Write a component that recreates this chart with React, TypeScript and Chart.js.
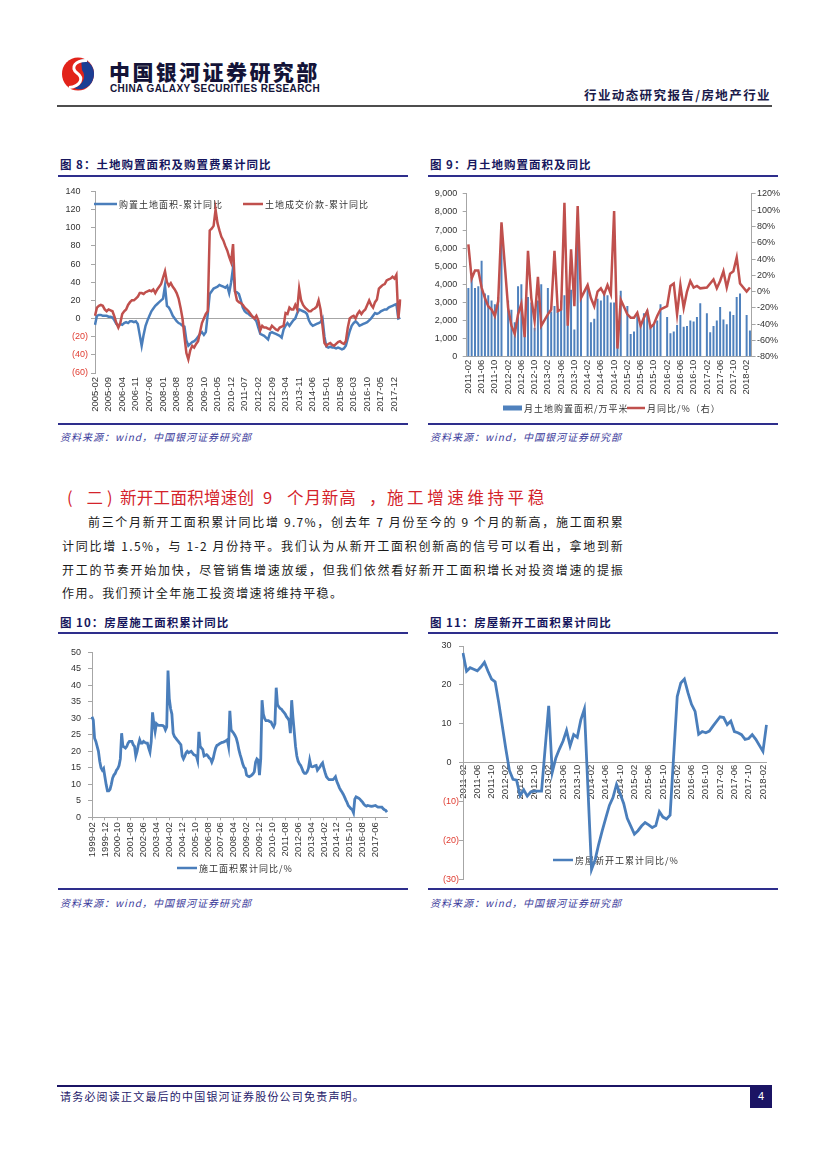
import React, { useEffect, useRef } from 'react';
import { Chart, registerables } from 'chart.js';

Chart.register(...registerables);

const CJK = '"Noto Sans CJK SC", "Noto Sans", sans-serif';
const ARIAL = '"Liberation Sans", Arial, sans-serif';
const BLUE = '#4A7EBB';
const BAR_BLUE = '#4F81BD';
const RED = '#C0504D';
const AXIS = '#A6A6A6';
const TICK_TEXT = '#333333';
const NEG_TEXT = '#E03C31';
const NAVY_TEXT = '#17175E';
const NAVY_LINE = '#2E2E8C';
const SOURCE_TEXT = '#3B3B9B';
const HEAD_RED = '#D4232B';

function monthRange(startYear: number, startMonth: number, count: number): string[] {
  const out: string[] = [];
  let y = startYear;
  let m = startMonth;
  for (let k = 0; k < count; k++) {
    out.push(`${y}-${m < 10 ? '0' + m : m}`);
    m += 1;
    if (m > 12) { m = 1; y += 1; }
  }
  return out;
}

// ---------- Figure 8 ----------
const fig8Months = monthRange(2005, 2, 158);
const fig8TickLabels = ['2005-02', '2005-09', '2006-04', '2006-11', '2007-06', '2008-01', '2008-08', '2009-03', '2009-10', '2010-05', '2010-12', '2011-07', '2012-02', '2012-09', '2013-04', '2013-11', '2014-06', '2015-01', '2015-08', '2016-03', '2016-10', '2017-05', '2017-12'];
const fig8LandArea = [
  -7, 3, 4, 4, 3, 3, 3, 2, 2, 1,
  -2, -6, -8, -6, -7, -5, -4, -5, -3, -3,
  -4, -3, -6, -18, -30, -18, -8, -2, 3, 8,
  11, 14, 16, 18, 20, 22, 36, 14, 12, 8,
  3, 0, -3, -5, -6, -8, -9, -24, -30, -28,
  -26, -25, -23, -20, -17, -15, -18, -15, 5, 27,
  30, 33, 34, 35, 37, 36, 35, 34, 36, 28,
  40, 56, 30, 29, 27, 20, 12, 8, 6, 5,
  3, 2, 0, -3, -10, -17, -18, -19, -21, -23,
  -16, -15, -16, -17, -18, -19, -21, -12, -8, -5,
  -8, -5, -2, 0, 6, 10, 9, 8, 7, 5,
  -2, -6, -8, -7, -6, -5, -4, 0, -20, -31,
  -32, -31, -32, -32, -33, -32, -33, -34, -33, -30,
  -22, -14, -8, -5, -3, -5, -8, -7, -6, -5,
  -4, -2, 0, 3, 6, 5, 6, 8, 9, 10,
  10, 12, 13, 14, 15, 16, 0, 1,
];
const fig8LandPrice = [
  3, 12, 14, 15, 14, 10, 8, 10, 9, 8,
  2, -5, -10, -5, 5, 8, 10, 15, 18, 20,
  20, 22, 24, 28, 28, 27, 29, 30, 31, 30,
  32, 28, 32, 35, 38, 45, 52, 40, 36, 39,
  35, 32, 28, 22, 12, 0, -20, -38, -45, -35,
  -30, -32, -28, -25, -15, -5, 0, 5, 8, 97,
  99, 102, 120, 105, 97, 90, 86, 80, 75, 68,
  62, 82, 30, 20, 18, 17, 15, 12, 10, 8,
  5, 2, 0, 3, -2, -13, -8, -10, -10, -11,
  -12, -8, -10, -12, -13, -10, -9, -8, 6, 5,
  12, 10, 10, 15, 10, 33, 20, 15, 12, 10,
  8, 8, 10, 11, 13, 20, 10, -8, -27, -30,
  -28, -27, -29, -30, -28, -26, -25, -27, -28, -25,
  -10, 0, 2, 3, 0, 5, 8, 5, 8, 10,
  15, 20, 15, 12, 18, 21, 33, 35, 37, 38,
  42, 43, 44, 46, 44, 48, 0, 21,
];
const fig8SeriesNames = ['购置土地面积-累计同比', '土地成交价款-累计同比'];

// ---------- Figure 9 ----------
const fig9Months = monthRange(2011, 2, 86);
const fig9TickLabels = ['2011-02', '2011-06', '2011-10', '2012-02', '2012-06', '2012-10', '2013-02', '2013-06', '2013-10', '2014-02', '2014-06', '2014-10', '2015-02', '2015-06', '2015-10', '2016-02', '2016-06', '2016-10', '2017-02', '2017-06', '2017-10', '2018-02'];
const fig9Area = [
  3800, 4400, 3800, 3900, 5300, 3500, 3400, 3100, 2900, 3300,
  7200, null, 3100, 2600, 1900, 3900, 4000, 1600, 3300, 3000,
  1600, 3100, 4000, null, 3800, 2500, 2800, 2600, 3100, 3400,
  2800, 3700, 1500, 6400, 3700, null, 3900, 1900, 2100, 3200,
  3100, 3600, 3400, 3000, 3000, 1900, 3650, null, 2800, 1250,
  1400, 2300, 1800, 2400, 2600, 1700, 1800, 2000, 2900, null,
  2200, 1300, 1400, 1750, 2300, 1650, 1700, 2000, 1950, 2200,
  2950, null, 2400, 1350, 1700, 2000, 2750, 2050, 1800, 2500,
  2300, 3300, 3500, null, 2300, 1450,
];
const fig9YoY = [
  58, 16, 26, 26, 5, -8, -18, -22, -30, -12,
  85, null, -20, -42, -52, -28, -15, -56, 50, -8,
  -36, 18, -42, null, -28, -22, 50, -24, -22, 109,
  -42, 52, -18, 105, -8, null, 8, -8, -18, 0,
  4, -3, 8, -3, 99, -70, -10, null, -28, -32,
  -32, -26, -42, -32, -24, -44, -40, -30, -22, null,
  -18, 7, 10, -28, 8, -20, 0, 13, 5, 7,
  4, null, 5, 10, 15, 4, 13, 25, 5, 22,
  25, 42, 10, null, 0, 5,
];
const fig9SeriesNames = ['月土地购置面积/万平米', '月同比/%（右）'];

// ---------- Figure 10 ----------
const fig10Months = monthRange(1999, 2, 230);
const fig10TickLabels = ['1999-02', '1999-12', '2000-10', '2001-08', '2002-06', '2003-04', '2004-02', '2004-12', '2005-10', '2006-08', '2007-06', '2008-04', '2009-02', '2009-12', '2010-10', '2011-08', '2012-06', '2013-04', '2014-02', '2014-12', '2015-10', '2016-08', '2017-06'];
const fig10Values = [
  30.5, 29.5, 24, 23, 21.5, 20, 17, 15, 14.3, 14.8,
  12.3, 9.9, 8, 8, 8.5, 10, 11.9, 12.8, 13.3, 14.3,
  14.8, 15.7, 17.7, 25.5, 21.5, 21.3, 21, 21.5, 22.5, 23,
  23, 23, 22, 21.5, 18.6, 20, 22, 23.5, 22.5, 22.5,
  23, 22.7, 22.5, 22.5, 21, 19.8, 23, 31.8, 28.4, 26,
  28.4, 28, 27.9, 27.9, 27.9, 27.8, 27.5, 26.5, 27.4, 44.5,
  36, 33, 31.3, 25.5, 24.5, 24, 23.5, 23, 22.5, 22,
  18.6, 17.7, 18.5, 19.6, 20, 19.6, 19.8, 20, 19.5, 19,
  18.8, 18.6, 17.2, 25.9, 21.5, 21, 20.5, 18.6, 18.8, 19,
  18.6, 18, 17.7, 16.7, 17.7, 19.5, 21, 21.8, 22, 22.3,
  22.5, 22.7, 22.8, 23, 23.2, 23.5, 21.5, 32.3, 26.5, 26,
  25.5, 24.8, 24, 22.5, 20.5, 19, 17.7, 16.2, 15.2, 14.8,
  12.8, 12.5, 12.3, 12.5, 12.8, 13.2, 13.8, 16.7, 17.7, 17.3,
  12.8, 17.7, 35.5, 31.3, 30, 29.3, 29.3, 29.3, 29, 28.9,
  28, 27.4, 28.4, 39.3, 34.2, 33.5, 33, 32.8, 32.3, 31.8,
  31.3, 30.5, 30, 29.3, 25.5, 35.5, 30.3, 26, 21.5, 18.6,
  17, 16.2, 15.7, 14.8, 13.8, 13.3, 13.3, 13.8, 14.8, 17.3,
  15.5, 15.3, 15.4, 15.6, 15.7, 14.3, 14.8, 15.3, 16, 16.5,
  14.8, 13.5, 12.3, 11.8, 11.4, 11.4, 11.4, 11.4, 11.8, 12.3,
  10.9, 10, 9, 8.3, 7.7, 7, 6.2, 5.3, 4.5, 3.5,
  3.1, 2.6, 2.3, 1.4, 5.5, 6.2, 6, 5.8, 5.5, 5,
  4.6, 4, 3.6, 3.4, 3.6, 3.5, 3.4, 3.3, 3.4, 3.5,
  3.6, 3.3, 3.1, 3.1, 3.1, 3.1, 2.6, 2.3, 2.1, 1.6,
];
const fig10SeriesName = '施工面积累计同比/%';

// ---------- Figure 11 ----------
const fig11Months = monthRange(2011, 2, 86);
const fig11TickLabels = ['2011-02', '2011-06', '2011-10', '2012-02', '2012-06', '2012-10', '2013-02', '2013-06', '2013-10', '2014-02', '2014-06', '2014-10', '2015-02', '2015-06', '2015-10', '2016-02', '2016-06', '2016-10', '2017-02', '2017-06', '2017-10', '2018-02'];
const fig11Values = [
  28.2, 23.5, 24.4, 24, 23.6, 24.6, 25.8, 23.5, 21.5, 20.8,
  15.5, null, 3.5, -2, -4.3, -4.5, -8.5, -7, -8.6, -7.5,
  -7.3, -7.3, -7.3, null, 14.6, -2.5, 1.2, 3.5, 5.5, 8.3,
  4.3, 7.2, 6.5, 11, 13.8, null, -27.5, -25, -21, -17.5,
  -14.2, -11, -9, -5.6, -8, -10.5, -14.3, null, -18.4, -17.5,
  -16.3, -15.4, -16, -16.7, -16.2, -12.6, -14, -14.5, -13.5, null,
  17, 20.5, 21.5, 18, 15, 13.2, 7.3, 8, 7.7, 8.1,
  9.4, null, 11.8, 11.6, 9.8, 10.7, 8, 7.7, 7.2, 6,
  6.2, 7.2, 6, null, 2.9, 9.7,
];
const fig11SeriesName = '房屋新开工累计同比/%';

// ---------- helpers ----------
const keepTicks = (labels: string[], shown: string[]) => (scale: any) => {
  scale.ticks = scale.ticks.filter((t: any) => shown.indexOf(labels[t.value]) >= 0);
};
const parenLabel = (v: any) => (Number(v) < 0 ? `(${-Number(v)})` : `${v}   `);
const negColor = (c: any) => (c.tick && c.tick.value < 0 ? NEG_TEXT : TICK_TEXT);

type LegendSpec = { x: number; y: number; len: number; color: string; kind: 'line' | 'rect'; text: string };

function legendPlugin(items: LegendSpec[], layer: 'under' | 'over') {
  const paint = (chart: any) => {
    const ctx = chart.ctx as CanvasRenderingContext2D;
    ctx.save();
    items.forEach((it) => {
      if (it.kind === 'line') {
        ctx.strokeStyle = it.color;
        ctx.lineWidth = 2.5;
        ctx.beginPath();
        ctx.moveTo(it.x, it.y);
        ctx.lineTo(it.x + it.len, it.y);
        ctx.stroke();
      } else {
        ctx.fillStyle = it.color;
        ctx.fillRect(it.x, it.y - 2.5, it.len, 5);
      }
      ctx.fillStyle = TICK_TEXT;
      ctx.font = `9px ${CJK}`;
      (ctx as any).letterSpacing = '1px';
      ctx.textAlign = 'left';
      ctx.textBaseline = 'middle';
      ctx.fillText(it.text, it.x + it.len + 2, it.y + 0.5);
    });
    ctx.restore();
  };
  return {
    id: 'customLegend',
    beforeDatasetsDraw(chart: any) { if (layer === 'under') paint(chart); },
    afterDatasetsDraw(chart: any) { if (layer === 'over') paint(chart); },
  };
}

const baseOptions = {
  responsive: false,
  animation: false,
  devicePixelRatio: 1,
  plugins: { legend: { display: false }, tooltip: { enabled: false } },
};

const xTickFont = { family: ARIAL, size: 9.5 };
const yTickFont = { family: ARIAL, size: 9 };

function buildFig8() {
  return {
    type: 'line',
    data: {
      labels: fig8Months,
      datasets: [
        { label: fig8SeriesNames[0], data: fig8LandArea, borderColor: BLUE, borderWidth: 2.5, pointRadius: 0, tension: 0, order: 2 },
        { label: fig8SeriesNames[1], data: fig8LandPrice, borderColor: RED, borderWidth: 2.5, pointRadius: 0, tension: 0, order: 1 },
      ],
    },
    options: {
      ...baseOptions,
      layout: { padding: { top: 7, right: 8, bottom: 0, left: 0 } },
      scales: {
        x: {
          type: 'category', offset: false,
          grid: { display: false, drawTicks: false }, border: { display: false },
          ticks: { autoSkip: false, minRotation: 90, maxRotation: 90, padding: 4, font: xTickFont, color: TICK_TEXT },
          afterBuildTicks: keepTicks(fig8Months, fig8TickLabels),
          afterFit: (s: any) => { s.height = 50; },
        },
        y: {
          min: -60, max: 140,
          ticks: { stepSize: 20, padding: 3, font: yTickFont, color: negColor, callback: parenLabel },
          grid: { color: (c: any) => (c.tick && c.tick.value === 0 ? AXIS : 'rgba(0,0,0,0)'), tickColor: AXIS, tickLength: 4 },
          border: { color: AXIS },
          afterFit: (s: any) => { s.width = 40; },
        },
      },
    },
    plugins: [legendPlugin([
      { x: 39, y: 21, len: 23, color: BLUE, kind: 'line', text: fig8SeriesNames[0] },
      { x: 188, y: 21, len: 20, color: RED, kind: 'line', text: fig8SeriesNames[1] },
    ], 'under')],
  };
}

function buildFig9() {
  return {
    type: 'bar',
    data: {
      labels: fig9Months,
      datasets: [
        { type: 'bar', label: fig9SeriesNames[0], data: fig9Area, backgroundColor: BAR_BLUE, barPercentage: 0.6, categoryPercentage: 1, yAxisID: 'y', order: 2 },
        { type: 'line', label: fig9SeriesNames[1], data: fig9YoY, borderColor: RED, borderWidth: 2.5, pointRadius: 0, tension: 0, spanGaps: true, yAxisID: 'y1', order: 1 },
      ],
    },
    options: {
      ...baseOptions,
      layout: { padding: { top: 6.3, right: 0, bottom: 21.3, left: 0 } },
      scales: {
        x: {
          offset: true,
          grid: { display: false, drawTicks: false }, border: { display: true, color: AXIS },
          ticks: { autoSkip: false, minRotation: 90, maxRotation: 90, padding: 3, font: xTickFont, color: TICK_TEXT },
          afterBuildTicks: keepTicks(fig9Months, fig9TickLabels),
          afterFit: (s: any) => { s.height = 45; },
        },
        y: {
          position: 'left', min: 0, max: 9000,
          ticks: { stepSize: 1000, padding: 5.5, font: yTickFont, color: TICK_TEXT, callback: (v: any) => Number(v).toLocaleString('en-US') },
          grid: { drawOnChartArea: false, color: AXIS, tickLength: 4 },
          border: { color: AXIS },
          afterFit: (s: any) => { s.width = 41.7; },
        },
        y1: {
          position: 'right', min: -80, max: 120,
          ticks: { stepSize: 20, padding: 1.5, font: yTickFont, color: TICK_TEXT, callback: (v: any) => `${v}%` },
          grid: { drawOnChartArea: false, color: AXIS, tickLength: 4 },
          border: { color: AXIS },
          afterFit: (s: any) => { s.width = 33.4; },
        },
      },
    },
    plugins: [legendPlugin([
      { x: 78, y: 225, len: 19, color: BAR_BLUE, kind: 'rect', text: fig9SeriesNames[0] },
      { x: 202, y: 225, len: 18, color: RED, kind: 'line', text: fig9SeriesNames[1] },
    ], 'over')],
  };
}

function buildFig10() {
  return {
    type: 'line',
    data: {
      labels: fig10Months,
      datasets: [
        { label: fig10SeriesName, data: fig10Values, borderColor: BLUE, borderWidth: 2.8, pointRadius: 0, tension: 0 },
      ],
    },
    options: {
      ...baseOptions,
      layout: { padding: { top: 6, right: 23, bottom: 22.7, left: 0 } },
      scales: {
        x: {
          offset: false,
          grid: { drawOnChartArea: false, color: AXIS, tickLength: 3 }, border: { display: true, color: AXIS },
          ticks: { autoSkip: false, minRotation: 90, maxRotation: 90, padding: 2, font: xTickFont, color: TICK_TEXT },
          afterBuildTicks: keepTicks(fig10Months, fig10TickLabels),
          afterFit: (s: any) => { s.height = 45; },
        },
        y: {
          min: 0, max: 50,
          ticks: { stepSize: 5, padding: 7, font: yTickFont, color: TICK_TEXT },
          grid: { drawOnChartArea: false, color: AXIS, tickLength: 4 },
          border: { color: AXIS },
          afterFit: (s: any) => { s.width = 37; },
        },
      },
    },
    plugins: [legendPlugin([
      { x: 122, y: 228, len: 20, color: BLUE, kind: 'line', text: fig10SeriesName },
    ], 'over')],
  };
}

function buildFig11() {
  return {
    type: 'line',
    data: {
      labels: fig11Months,
      datasets: [
        { label: fig11SeriesName, data: fig11Values, borderColor: BLUE, borderWidth: 2.8, pointRadius: 0, tension: 0, spanGaps: true },
      ],
    },
    options: {
      ...baseOptions,
      layout: { padding: { top: 6, right: 18.5, bottom: 10.7, left: 0 } },
      scales: {
        x: {
          position: { y: 0 }, offset: false,
          grid: { display: false, drawTicks: false }, border: { display: true, color: AXIS },
          ticks: { autoSkip: false, minRotation: 90, maxRotation: 90, padding: 2, font: xTickFont, color: TICK_TEXT },
          afterBuildTicks: keepTicks(fig11Months, fig11TickLabels),
          afterFit: (s: any) => { s.height = 0; },
        },
        y: {
          min: -30, max: 30,
          ticks: { stepSize: 10, padding: 0, font: yTickFont, color: negColor, callback: parenLabel },
          grid: { drawOnChartArea: false, color: AXIS, tickLength: 4 },
          border: { color: AXIS },
          afterFit: (s: any) => { s.width = 38; },
        },
      },
    },
    plugins: [legendPlugin([
      { x: 128, y: 220, len: 20, color: BLUE, kind: 'line', text: fig11SeriesName },
    ], 'under')],
  };
}

function ChartCanvas({ left, top, width, height, build }: { left: number; top: number; width: number; height: number; build: () => any }) {
  const ref = useRef<HTMLCanvasElement | null>(null);
  useEffect(() => {
    if (!ref.current) return undefined;
    const chart = new Chart(ref.current, build());
    return () => { chart.destroy(); };
  }, []);
  return (
    <canvas ref={ref} width={width} height={height} style={{ position: 'absolute', left, top, width, height }} />
  );
}

function Txt({ x, y, size, children, style }: { x: number; y: number; size: number; children: any; style?: any }) {
  return (
    <div style={{ position: 'absolute', left: x, top: y - size / 2, fontSize: size, lineHeight: `${size}px`, whiteSpace: 'nowrap', fontFamily: CJK, ...style }}>
      {children}
    </div>
  );
}

function Rule({ x, y, w, h, color }: { x: number; y: number; w: number; h: number; color: string }) {
  return <div style={{ position: 'absolute', left: x, top: y, width: w, height: h, background: color }} />;
}

function FigureFrame({ x, titleY, lineY, bottomY, sourceY, title }: { x: number; titleY: number; lineY: number; bottomY: number; sourceY: number; title: string }) {
  return (
    <>
      <Txt x={x + 2} y={titleY} size={11.5} style={{ fontWeight: 700, color: NAVY_TEXT, letterSpacing: '1px' }}>{title}</Txt>
      <Rule x={x} y={lineY - 1} w={350} h={2} color={NAVY_LINE} />
      <Rule x={x} y={bottomY - 1} w={350} h={2} color={NAVY_LINE} />
      <Txt x={x + 2} y={sourceY} size={10} style={{ fontStyle: 'italic', color: SOURCE_TEXT, letterSpacing: '1px' }}>资料来源：wind，中国银河证券研究部</Txt>
    </>
  );
}

const paraStyle = { fontSize: 12, color: '#1A1A1A', letterSpacing: '1.3px', textAlign: 'justify', textAlignLast: 'justify' } as any;
const headStyle = { color: HEAD_RED };

export default function App() {
  return (
    <div style={{ position: 'absolute', left: 0, top: 0, width: 827, height: 1169, background: '#ffffff', overflow: 'hidden', fontFamily: CJK }}>
      {/* logo */}
      <svg style={{ position: 'absolute', left: 61, top: 57 }} width={36} height={34} viewBox="0 0 36 34">
        <ellipse cx="17" cy="17" rx="16" ry="16.5" fill="#E2231A" />
        <path d="M20 2 C 32 4, 36 16, 31 25 C 27 32, 18 34, 13 31 C 22 28, 26 20, 21 13 Z" fill="#1D3E93" />
        <path d="M26 3.5 C 14 3, 9 11, 16 16 C 23 21, 20 29, 8 30.5" stroke="#ffffff" strokeWidth="3" fill="none" />
      </svg>
      <Txt x={109} y={71} size={21} style={{ fontWeight: 900, color: '#141438', letterSpacing: '2.4px' }}>中国银河证券研究部</Txt>
      <Txt x={110} y={88.5} size={10} style={{ fontFamily: ARIAL, fontWeight: 700, color: '#141438', letterSpacing: '0.4px' }}>CHINA GALAXY SECURITIES RESEARCH</Txt>
      <Txt x={584} y={95.5} size={12.5} style={{ fontWeight: 700, color: '#1A1A4A', letterSpacing: '1.4px' }}>行业动态研究报告/房地产行业</Txt>
      <Rule x={57} y={105} w={715} h={2} color="#4D4D4D" />

      {/* figure 8 & 9 */}
      <FigureFrame x={58} titleY={165} lineY={176} bottomY={424} sourceY={436.5} title="图 8：土地购置面积及购置费累计同比" />
      <FigureFrame x={428} titleY={165} lineY={176} bottomY={424} sourceY={436.5} title="图 9：月土地购置面积及同比" />
      <ChartCanvas left={55} top={183} width={355} height={240} build={buildFig8} />
      <ChartCanvas left={425} top={183} width={360} height={240} build={buildFig9} />

      {/* section heading */}
      <Txt x={67} y={497.5} size={16.5} style={headStyle}>(</Txt>
      <Txt x={86.5} y={497.5} size={16.5} style={headStyle}>二</Txt>
      <Txt x={107} y={497.5} size={16.5} style={headStyle}>)</Txt>
      <Txt x={120} y={497.5} size={16.5} style={{ ...headStyle, letterSpacing: '0.3px' }}>新开工面积增速创</Txt>
      <Txt x={263} y={497.5} size={16.5} style={headStyle}>9</Txt>
      <Txt x={287} y={497.5} size={16.5} style={{ ...headStyle, letterSpacing: '0.9px' }}>个月新高</Txt>
      <Txt x={369} y={497.5} size={16.5} style={headStyle}>，</Txt>
      <Txt x={387} y={497.5} size={16.5} style={{ ...headStyle, letterSpacing: '3.6px' }}>施工增速维持平稳</Txt>

      {/* paragraph */}
      <div style={{ position: 'absolute', left: 88, top: 522 - 6, width: 536, lineHeight: '12px', whiteSpace: 'nowrap', ...paraStyle }}>前三个月新开工面积累计同比增 9.7%，创去年 7 月份至今的 9 个月的新高，施工面积累</div>
      <div style={{ position: 'absolute', left: 62, top: 546 - 6, width: 562, lineHeight: '12px', whiteSpace: 'nowrap', ...paraStyle }}>计同比增 1.5%，与 1-2 月份持平。我们认为从新开工面积创新高的信号可以看出，拿地到新</div>
      <div style={{ position: 'absolute', left: 62, top: 570 - 6, width: 562, lineHeight: '12px', whiteSpace: 'nowrap', ...paraStyle }}>开工的节奏开始加快，尽管销售增速放缓，但我们依然看好新开工面积增长对投资增速的提振</div>
      <div style={{ position: 'absolute', left: 62, top: 593 - 6, lineHeight: '12px', whiteSpace: 'nowrap', fontSize: 12, color: '#1A1A1A', letterSpacing: '1.4px' }}>作用。我们预计全年施工投资增速将维持平稳。</div>

      {/* figure 10 & 11 */}
      <FigureFrame x={58} titleY={622.7} lineY={633.3} bottomY={889.3} sourceY={902.7} title="图 10：房屋施工面积累计同比" />
      <FigureFrame x={428} titleY={622.7} lineY={633.3} bottomY={889.3} sourceY={902.7} title="图 11：房屋新开工面积累计同比" />
      <ChartCanvas left={55} top={640} width={355} height={245} build={buildFig10} />
      <ChartCanvas left={425} top={640} width={360} height={250} build={buildFig11} />

      {/* footer */}
      <Rule x={57} y={1085} w={693} h={2} color="#1B1464" />
      <Txt x={60} y={1096} size={11} style={{ color: '#1F1A6B', letterSpacing: '1.2px' }}>请务必阅读正文最后的中国银河证券股份公司免责声明。</Txt>
      <div style={{ position: 'absolute', left: 750, top: 1085, width: 22, height: 23, background: '#1B1464', color: '#ffffff', fontFamily: ARIAL, fontSize: 11, lineHeight: '23px', textAlign: 'center' }}>4</div>
    </div>
  );
}
